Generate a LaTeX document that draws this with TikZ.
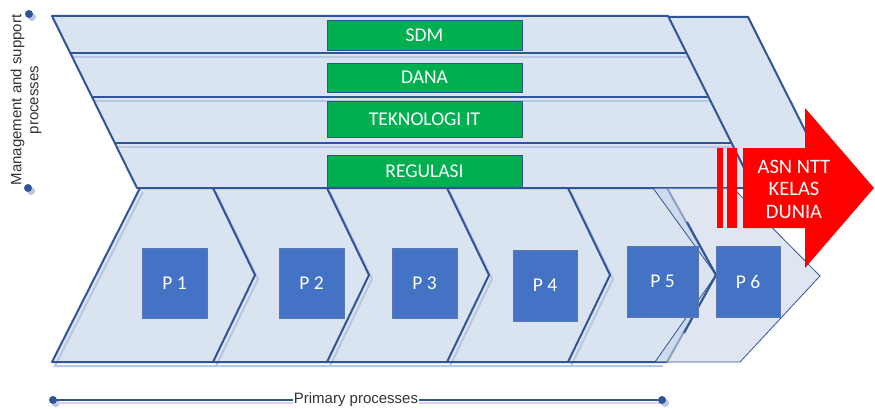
\documentclass[tikz,border=0pt]{standalone}
\usepackage{fontspec}
\setmainfont{Carlito}
\newfontfamily\labelfont{Liberation Sans}
\usepackage{tikz}
\usetikzlibrary{positioning, calc}

\definecolor{edgeblue}{HTML}{2F5597}
\definecolor{bandfill}{HTML}{DAE3F0}
\definecolor{shadowblue}{HTML}{B7C6E2}
\definecolor{resgreen}{HTML}{00B050}
\definecolor{procblue}{HTML}{4472C4}

\begin{document}
\begin{tikzpicture}[x=1pt, y=-1pt,
    edge/.style={draw=edgeblue, line width=2pt, line join=round},
    shade/.style={draw=shadowblue, line width=2pt},
    resbox/.style={rectangle, draw=edgeblue, line width=0.6pt, fill=resgreen, text=white,
        minimum width=195pt, inner sep=0pt, font=\fontsize{19.5}{23}\selectfont},
    procbox/.style={rectangle, draw=edgeblue!80, line width=0.6pt, fill=procblue, text=white,
        minimum width=65pt, minimum height=71pt, inner sep=0pt, font=\fontsize{19.5}{23}\selectfont},
    dot/.style={circle, fill=edgeblue, inner sep=0pt, minimum size=8pt},
    axislabel/.style={font=\labelfont\fontsize{15}{17}\selectfont, text=black!80}
]
    \useasboundingbox (0,0) rectangle (875,409);

    % support bands (back copy, then main block)
    \path[fill=bandfill] (668,17) -- (748,17) -- (834,188) -- (754,188) -- cycle;
    \draw[edge] (668,17) -- (748,17) -- (834,188);
    \path[fill=bandfill] (52,16) -- (668,16) -- (754,188) -- (137,188) -- cycle;

    % primary chevrons
    \path[fill=bandfill] (140,188) -- (667,188) -- (716,275) -- (667,362) -- (52,362) -- cycle;

    % shadows under the lines
    \begin{scope}[shift={(3,4)}]
        \foreach \y in {53,97,143}
            \draw[shade] ({52+(\y-16)*0.494},\y) -- ({668+(\y-16)*0.5},\y);
        \draw[shade] (140,188) -- (52,362) -- (660,362);
        \foreach \x in {213,327,447,568}
            \draw[shade] (\x,188) -- (\x+42,275) -- (\x,362);
    \end{scope}

    % band outlines
    \draw[edge] (137,188) -- (52,16) -- (668,16) -- (754,188) -- cycle;
    \foreach \y in {53,97,143}
        \draw[edge] ({52+(\y-16)*0.494},\y) -- ({668+(\y-16)*0.5},\y);
    \draw[edge] (140,188) -- (52,362) -- (667,362);
    \foreach \x in {213,327,447,568}
        \draw[edge] (\x,188) -- (\x+42,275) -- (\x,362);
    \draw[edge] (667,188) -- (716,275) -- (667,362);

    % resources
    \node[resbox, minimum height=30pt] (sdm) at (424.5,35) {SDM};
    \node[resbox, minimum height=29pt] (dana) at (424.5,77.5) {DANA};
    \node[resbox, minimum height=36pt] (tekno) at (424.5,119) {TEKNOLOGI IT};
    \node[resbox, minimum height=32pt] (regulasi) at (424.5,171) {REGULASI};

    % last chevron laid over the fifth
    \path[fill=bandfill!90!edgeblue, fill opacity=0.6, draw=edgeblue, line width=0.8pt]
        (653,188) -- (733,188) -- (820,276) -- (740,362) -- (655,362) -- (716,275) -- cycle;
    \draw[edge] (687,222) -- (716,275) -- (684,333);

    % processes
    \node[procbox, minimum height=70pt] (p1) at (174.5,283) {P 1};
    \node[procbox, minimum height=70pt] (p2) at (311.5,283) {P 2};
    \node[procbox, minimum height=70pt] (p3) at (424.5,283) {P 3};
    \node[procbox, minimum width=64pt] (p4) at (545,285.5) {P 4};
    \node[procbox, minimum width=71pt] (p5) at (662.5,281.5) {P 5};
    \node[procbox, minimum width=64pt] (p6) at (748,281.5) {P 6};

    % goal arrow
    \fill[red] (717,148) rectangle (723,228);
    \fill[red] (727,148) rectangle (737,228);
    \fill[red] (743,148) -- (805,148) -- (805,108) -- (874,188) -- (805,268) -- (805,228) -- (743,228) -- cycle;
    \node[align=center, text=white, font=\fontsize{20.5}{22.5}\selectfont] (goal) at (794,189) {ASN NTT\\KELAS\\DUNIA};

    % side label
    \fill[shadowblue] (32,17) circle (4pt);
    \fill[shadowblue] (31,191) circle (4pt);
    \node[dot] (mtop) at (29,14) {};
    \node[dot] (mbot) at (28,188) {};
    \node[axislabel, rotate=90, align=center] (mgmt) at (26,100) {Management and support\\processes};

    % bottom label
    \fill[shadowblue] (56,403) circle (4pt);
    \fill[shadowblue] (665,403) circle (4pt);
    \draw[shadowblue!70!violet!40, line width=1.2pt] (56,403) -- (665,403);
    \node[dot] (pl) at (53,400) {};
    \node[dot] (pr) at (662,400) {};
    \node[axislabel, fill=white, inner xsep=1pt, inner ysep=0pt] (prim) at (356,400) {Primary processes};
    \draw[edgeblue, line width=1.6pt] (pl) -- (prim);
    \draw[edgeblue, line width=1.6pt] (prim) -- (pr);
\end{tikzpicture}
\end{document}
